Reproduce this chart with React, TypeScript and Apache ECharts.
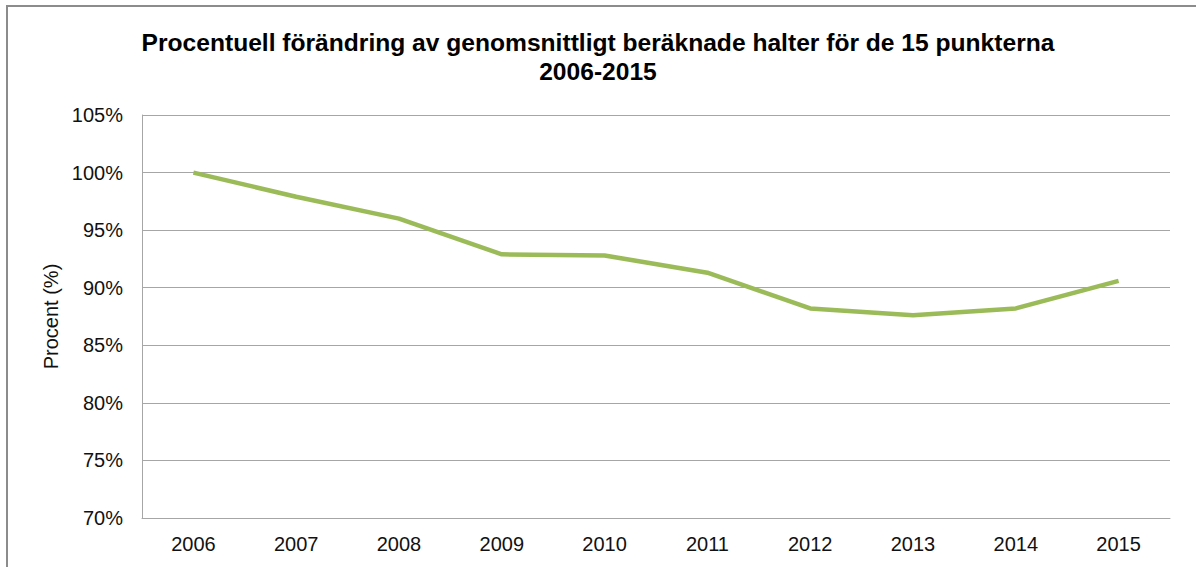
import React, { useEffect, useRef } from "react";
import * as echarts from "echarts";

const titleLines = [
  "Procentuell förändring av genomsnittligt beräknade halter för de 15 punkterna",
  "2006-2015",
];
const years = ["2006", "2007", "2008", "2009", "2010", "2011", "2012", "2013", "2014", "2015"];
const percentValues = [100, 97.9, 96.0, 92.9, 92.8, 91.3, 88.2, 87.6, 88.2, 90.6];
const yAxisName = "Procent (%)";

export default function App() {
  const ref = useRef<HTMLDivElement>(null);
  useEffect(() => {
    if (!ref.current) return;
    const chart = echarts.init(ref.current, undefined, { renderer: "svg" });
    const font = "Liberation Sans, Arial, sans-serif";
    chart.setOption({
      animation: false,
      backgroundColor: "#ffffff",
      title: {
        text: titleLines.join("\n"),
        left: "center",
        top: 23,
        textStyle: {
          fontFamily: font,
          fontSize: 24.6,
          fontWeight: "bold",
          color: "#000000",
          lineHeight: 29,
        },
      },
      graphic: [
        {
          type: "rect",
          shape: { x: 7, y: 6, width: 1300, height: 700 },
          style: { fill: "none", stroke: "#8c8c8c", lineWidth: 2 },
          silent: true,
        },
      ],
      grid: { left: 142, right: 26, top: 115, bottom: 49 },
      xAxis: {
        type: "category",
        data: years,
        boundaryGap: true,
        axisLine: { show: true, lineStyle: { color: "#a6a6a6", width: 1 } },
        axisTick: { show: false },
        axisLabel: { fontFamily: font, fontSize: 20, color: "#111111", margin: 16 },
      },
      yAxis: {
        type: "value",
        min: 70,
        max: 105,
        interval: 5,
        name: yAxisName,
        nameLocation: "middle",
        nameGap: 80,
        nameRotate: 90,
        nameTextStyle: { fontFamily: font, fontSize: 20, color: "#111111" },
        axisLine: { show: true, lineStyle: { color: "#a6a6a6", width: 1 } },
        axisTick: { show: false },
        splitLine: { show: true, lineStyle: { color: "#a6a6a6", width: 1 } },
        axisLabel: {
          fontFamily: font,
          fontSize: 20,
          color: "#111111",
          margin: 19,
          formatter: (v: number) => `${v}%`,
        },
      },
      series: [
        {
          type: "line",
          data: percentValues,
          symbol: "none",
          lineStyle: { color: "#9bbb59", width: 4.5 },
        },
      ],
    });
    return () => chart.dispose();
  }, []);
  return (
    <div
      ref={ref}
      style={{ position: "fixed", left: 0, top: 0, width: 1196, height: 567 }}
    />
  );
}
